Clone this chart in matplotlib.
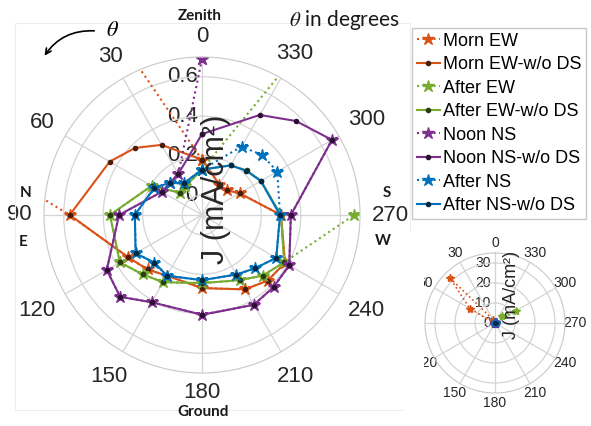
import numpy as np
import matplotlib.pyplot as plt
from matplotlib.colors import to_rgb
from matplotlib.patches import Rectangle

plt.rcParams['font.family'] = ['Liberation Sans', 'DejaVu Sans']
plt.rcParams['mathtext.fontset'] = 'stix'

# angles (deg) at which J was measured
theta_deg = [0, 30, 45, 60, 90, 120, 135, 150, 180, 210, 225, 240, 270, 300, 315, 330]

# J in mA/cm^2
morn_ew_wods = [0.18, 0.31, 0.38, 0.44, 0.57, 0.33, 0.29, 0.255, 0.27, 0.335, 0.37, 0.385, 0.30, 0.12, 0.077, 0.077]
morn_ew = [0.18, 2.0, 32.0, 14.5, 0.57, 0.33, 0.29, 0.255, 0.27, 0.335, 0.37, 0.385, 0.30, 0.12, 0.077, 0.077]
after_ew_wods = [0.13, 0.068, 0.06, 0.195, 0.366, 0.38, 0.325, 0.293, 0.245, 0.281, 0.334, 0.38, 0.30, 0.245, 0.22, 0.19]
after_ew = [0.13, 0.068, 0.06, 0.195, 0.366, 0.38, 0.325, 0.293, 0.245, 0.281, 0.334, 0.38, 0.67, 12.4, 5.0, 0.8]
noon_ns_wods = [0.31, 0.14, 0.13, 0.135, 0.32, 0.457, 0.486, 0.41, 0.405, 0.425, 0.414, 0.41, 0.35, 0.66, 0.573, 0.485]
noon_ns = [0.69, 0.14, 0.13, 0.135, 0.32, 0.457, 0.486, 0.41, 0.405, 0.425, 0.414, 0.41, 0.35, 0.66, np.nan, np.nan]
after_ns_wods = [0.13, 0.085, 0.13, 0.178, 0.24, 0.288, 0.241, 0.255, 0.23, 0.248, 0.281, 0.334, 0.295, 0.244, 0.217, 0.19]
after_ns = [0.13, 0.085, 0.13, 0.178, 0.24, 0.288, 0.241, 0.255, 0.23, 0.248, 0.281, 0.334, 0.295, 0.34, 0.33, 0.30]

labels = ["Morn EW", "Morn EW-w/o DS", "After EW", "After EW-w/o DS",
          "Noon NS", "Noon NS-w/o DS", "After NS", "After NS-w/o DS"]
values = [morn_ew, morn_ew_wods, after_ew, after_ew_wods,
          noon_ns, noon_ns_wods, after_ns, after_ns_wods]
colors = ["#D95319", "#D95319", "#77AC30", "#77AC30",
          "#7E2F8E", "#7E2F8E", "#0072BD", "#0072BD"]
theta_ticks = list(range(0, 360, 30))

W, H = 591, 426


def fx(px):
    return px / W


def fy(py):
    return 1 - py / H


def draw(ax, star_ms, dot_ms, lw):
    t = np.deg2rad(theta_deg + [360])
    for i, (lab, vals, c) in enumerate(zip(labels, values, colors)):
        r = np.array(vals + [vals[0]], dtype=float)
        if i % 2 == 0:
            ax.plot(t, r, ':', color=c, lw=lw, marker='*', ms=star_ms, label=lab)
        else:
            dark = tuple(np.array(to_rgb(c)) * 0.35)
            ax.plot(t, r, '-', color=c, lw=lw, marker='o', ms=dot_ms,
                    mfc=dark, mec=dark, label=lab)


def style_polar(ax, rmin, rmax, rticks, fs, pad, tick_labels=True):
    ax.set_theta_zero_location('N')
    ax.set_theta_direction(1)
    ax.set_rlim(rmin, rmax)
    ax.set_rticks(rticks)
    ax.set_yticklabels([])
    shown = [str(a) for a in theta_ticks] if tick_labels else [''] * len(theta_ticks)
    ax.set_thetagrids(theta_ticks, shown, fontsize=fs, color='#262626')
    ax.tick_params(axis='x', pad=pad)
    ax.grid(True, color='#d4d4d4', lw=0.9)
    ax.spines['polar'].set_color('#c8c8c8')
    for r in rticks:
        ax.annotate(f'{r:g}', xy=(0, r), xytext=(-3, 0), textcoords='offset points',
                    ha='right', va='center', fontsize=fs, color='#262626', zorder=1)


fig = plt.figure(figsize=(5.91, 4.26), dpi=100)
fig.patches.append(Rectangle((fx(15), fy(410)), fx(410) - fx(15), fy(23) - fy(410),
                             transform=fig.transFigure, fill=False,
                             edgecolor='#eeeeee', lw=0.8))

# main polar plot (radius 158 px, centre at 202, 215)
ax = fig.add_axes((fx(44), fy(373), 316 / W, 316 / H), projection='polar')
draw(ax, 9, 3, 1.5)
style_polar(ax, -0.1, 0.7, [0, 0.2, 0.4, 0.6], 16, 3, tick_labels=False)

# theta labels placed with a fixed gap from the rim, like MATLAB does
rim_px, gap_px, digit_w, half_h = 158, 12, 12.4, 8
for a in theta_ticks:
    s = str(a)
    rad = np.deg2rad(a)
    d = rim_px + gap_px + abs(np.sin(rad)) * len(s) * digit_w / 2 + abs(np.cos(rad)) * half_h
    r_lab = -0.1 + d / rim_px * 0.8
    ax.text(rad, r_lab, s, ha='center', va='center', fontsize=16, color='#262626',
            clip_on=False)

# inset with the full range
ax2 = fig.add_axes((fx(425), fy(393), 140 / W, 140 / H), projection='polar')
draw(ax2, 6, 2, 1.2)
style_polar(ax2, 0, 35, [0, 10, 20, 30], 10, -3)

# the inset picture is cropped on its left side
fig.patches.append(Rectangle((fx(404), fy(424)), fx(424) - fx(404), fy(232) - fy(424),
                             transform=fig.transFigure, facecolor='white',
                             edgecolor='none', zorder=5))

# axis labels and annotations
fig.text(fx(216), fy(189), 'J (mA/cm²)', rotation=90, ha='center', va='center',
         fontsize=22, color='#262626')
fig.text(fx(511), fy(295), 'J (mA/cm²)', rotation=90, ha='center', va='center',
         fontsize=13, color='#262626')

side = dict(fontsize=11, fontweight='bold', family=['Lato', 'DejaVu Sans'],
            ha='center', va='center', color='#1a1a1a')
fig.text(fx(200), fy(16), 'Zenith', **side)
fig.text(fx(203), fy(412), 'Ground', **side)
fig.text(fx(26), fy(193), 'N', **side)
fig.text(fx(23), fy(242), 'E', **side)
fig.text(fx(387), fy(193), 'S', **side)
fig.text(fx(383), fy(241), 'W', **side)

fig.text(fx(344), fy(20), r'$\theta$ in degrees', fontsize=15, ha='center', va='center',
         family=['Lato', 'DejaVu Sans'], color='#1a1a1a')
fig.text(fx(113), fy(31), r'$\theta$', fontsize=16, ha='center', va='center')
ax.annotate('', xy=(fx(43), fy(58)), xytext=(fx(97), fy(31)),
            xycoords='figure fraction', textcoords='figure fraction',
            arrowprops=dict(arrowstyle='->', color='k', lw=1.2,
                            connectionstyle='arc3,rad=0.3'),
            annotation_clip=False)

h, l = ax.get_legend_handles_labels()
fig.legend(h, l, loc='upper left', bbox_to_anchor=(fx(412), fy(28)),
           fontsize=13, frameon=True, fancybox=False, edgecolor='#bbbbbb',
           handlelength=1.3, handletextpad=0.15, borderpad=0.25, labelspacing=0.36,
           borderaxespad=0, numpoints=1)

fig.savefig('out.png', dpi=100)
